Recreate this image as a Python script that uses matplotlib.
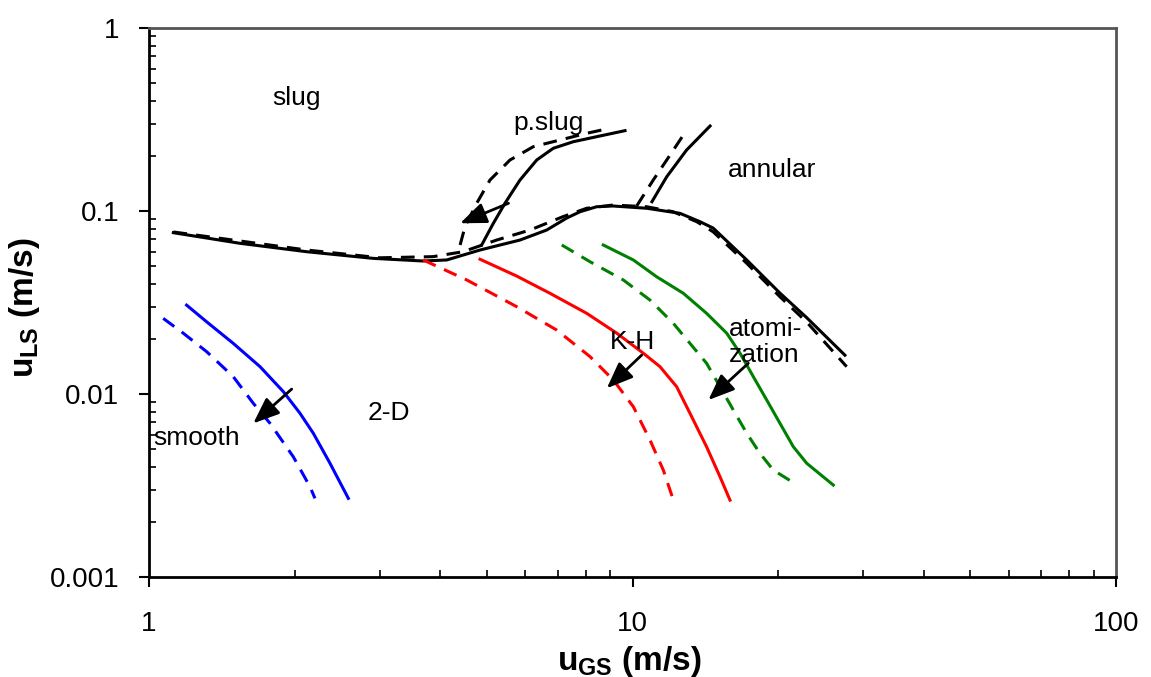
import matplotlib
matplotlib.use("Agg")
import matplotlib.pyplot as plt
from matplotlib.ticker import LogLocator, FuncFormatter, NullFormatter

plt.rcParams['font.family'] = ['Liberation Sans', 'DejaVu Sans']
plt.rcParams['mathtext.fontset'] = 'custom'
plt.rcParams['mathtext.rm'] = 'Liberation Sans'
plt.rcParams['mathtext.bf'] = 'Liberation Sans:bold'

# ---- data ----
main_solid_x = [1.123, 1.542, 2.12, 2.91, 3.69, 4.128, 4.837, 5.852, 6.645, 7.31, 7.79, 8.43, 9.11, 10.70, 12.54, 13.79, 14.68, 17.23, 20.18, 22.9, 27.5]
main_solid_y = [0.0761, 0.0666, 0.0599, 0.0551, 0.0533, 0.0540, 0.0612, 0.0694, 0.0787, 0.0915, 0.0991, 0.1055, 0.1065, 0.1035, 0.0971, 0.0874, 0.0807, 0.054, 0.0356, 0.0262, 0.0163]

main_dash_x = [1.123, 2.12, 3.005, 3.867, 4.461, 5.238, 6.138, 7.18, 8.04, 9.11, 10.70, 12.13, 13.58, 14.68, 17.23, 20.18, 22.93, 27.73]
main_dash_y = [0.0768, 0.0612, 0.0555, 0.0563, 0.0599, 0.0694, 0.0787, 0.0931, 0.1035, 0.1078, 0.1055, 0.0991, 0.0874, 0.0770, 0.0518, 0.0340, 0.0247, 0.0141]

pslug_solid_x = [4.876, 5.154, 5.448, 5.852, 6.338, 6.858, 7.543, 8.43, 9.65]
pslug_solid_y = [0.0652, 0.0856, 0.1102, 0.1477, 0.19, 0.2202, 0.2391, 0.2547, 0.2748]

pslug_dash_x = [4.40, 4.504, 4.762, 5.073, 5.58, 6.235, 7.08, 8.04, 8.64]
pslug_dash_y = [0.0652, 0.0821, 0.1102, 0.1477, 0.19, 0.2246, 0.2443, 0.2658, 0.2771]

annular_solid_x = [10.97, 11.77, 12.94, 14.47]
annular_solid_y = [0.1124, 0.1539, 0.2155, 0.2914]

annular_dash_x = [10.2, 11.04, 11.96, 12.74]
annular_dash_y = [0.1065, 0.1477, 0.2023, 0.2602]

smooth_solid_x = [1.196, 1.316, 1.494, 1.697, 1.896, 2.053, 2.187, 2.368, 2.584]
smooth_solid_y = [0.0306, 0.0248, 0.0189, 0.0141, 0.0103, 0.00784, 0.0061, 0.00418, 0.00269]

smooth_dash_x = [1.07, 1.177, 1.316, 1.494, 1.643, 1.779, 1.988, 2.153, 2.204]
smooth_dash_y = [0.0259, 0.0215, 0.01703, 0.01243, 0.0089, 0.00692, 0.00454, 0.00311, 0.00269]

kh_solid_x = [4.837, 5.761, 6.751, 8.04, 9.276, 10.53, 11.40, 12.34, 13.15, 14.23, 15.17, 15.91]
kh_solid_y = [0.0545, 0.0441, 0.0355, 0.0276, 0.0215, 0.0167, 0.0141, 0.01096, 0.00784, 0.00515, 0.00353, 0.00263]

kh_dash_x = [3.69, 4.541, 5.761, 6.968, 8.17, 9.126, 10.04, 10.87, 11.58, 12.15]
kh_dash_y = [0.054, 0.042, 0.030, 0.02237, 0.016, 0.01193, 0.00852, 0.0056, 0.00384, 0.00263]

atom_solid_x = [8.70, 10.04, 11.22, 12.74, 14.23, 15.66, 16.69, 17.78, 18.95, 20.18, 21.51, 22.93, 26.02]
atom_solid_y = [0.0652, 0.054, 0.0437, 0.0355, 0.0276, 0.0215, 0.0167, 0.01243, 0.00927, 0.00692, 0.00515, 0.00418, 0.00318]

atom_dash_x = [7.14, 8.17, 9.57, 10.87, 12.15, 13.15, 14.23, 15.17, 16.16, 17.23, 18.35, 19.55, 21.35]
atom_dash_y = [0.0652, 0.0528, 0.042, 0.0326, 0.0243, 0.0189, 0.01472, 0.01096, 0.00818, 0.0061, 0.00474, 0.00384, 0.00332]

# arrows: (start_x, start_y, tip_x, tip_y)
arrow_starts_x = [1.973, 10.45, 17.36, 5.54]
arrow_starts_y = [0.01064, 0.01633, 0.01472, 0.1102]
arrow_tips_x = [1.643, 8.85, 14.35, 4.40]
arrow_tips_y = [0.00691, 0.01075, 0.00927, 0.0857]

labels = ['slug', 'p.slug', 'annular', 'K-H', 'atomi-\nzation', '2-D', 'smooth']
labels_x = [2.02, 6.69, 19.44, 9.98, 15.82, 3.136, 1.255]
labels_y = [0.4145, 0.303, 0.1676, 0.0192, 0.0192, 0.00787, 0.00573]
labels_ha = ['center', 'center', 'center', 'center', 'left', 'center', 'center']

x_ticks = [1, 10, 100]
y_ticks = [0.001, 0.01, 0.1, 1]

# ---- figure ----
fig = plt.figure(figsize=(11.51, 6.77), dpi=100)
ax = fig.add_axes([149/1151, 1 - 577/677, (1116 - 149)/1151, (577 - 28)/677])
ax.set_xscale('log')
ax.set_yscale('log')
ax.set_xlim(1, 100)
ax.set_ylim(0.001, 1)

lw = 2.2
dash = (0, (4.5, 3))
ax.plot(main_solid_x, main_solid_y, color='black', lw=lw)
ax.plot(main_dash_x, main_dash_y, color='black', lw=lw, ls=dash)
ax.plot(pslug_solid_x, pslug_solid_y, color='black', lw=lw)
ax.plot(pslug_dash_x, pslug_dash_y, color='black', lw=lw, ls=dash)
ax.plot(annular_solid_x, annular_solid_y, color='black', lw=lw)
ax.plot(annular_dash_x, annular_dash_y, color='black', lw=lw, ls=dash)
ax.plot(smooth_solid_x, smooth_solid_y, color='#0000ff', lw=lw)
ax.plot(smooth_dash_x, smooth_dash_y, color='#0000ff', lw=lw, ls=dash)
ax.plot(kh_solid_x, kh_solid_y, color='#ff0000', lw=lw)
ax.plot(kh_dash_x, kh_dash_y, color='#ff0000', lw=lw, ls=dash)
ax.plot(atom_solid_x, atom_solid_y, color='#008000', lw=lw)
ax.plot(atom_dash_x, atom_dash_y, color='#008000', lw=lw, ls=dash)

for sx, sy, tx, ty in zip(arrow_starts_x, arrow_starts_y, arrow_tips_x, arrow_tips_y):
    ax.annotate('', xy=(tx, ty), xytext=(sx, sy),
                arrowprops=dict(arrowstyle='-|>,head_length=1.0,head_width=0.4',
                                mutation_scale=16, color='black', lw=2,
                                shrinkA=0, shrinkB=0))

for t, lx, ly, ha in zip(labels, labels_x, labels_y, labels_ha):
    ax.text(lx, ly, t, fontsize=19, ha=ha, va='center', linespacing=1.1)

# spines
for s in ['left', 'bottom']:
    ax.spines[s].set_color('black')
    ax.spines[s].set_linewidth(2)
for s in ['top', 'right']:
    ax.spines[s].set_color('#555555')
    ax.spines[s].set_linewidth(2)

fmt = FuncFormatter(lambda v, _: f'{v:g}')
ax.set_xticks(x_ticks)
ax.set_yticks(y_ticks)
ax.xaxis.set_major_formatter(fmt)
ax.yaxis.set_major_formatter(fmt)
ax.xaxis.set_minor_locator(LogLocator(base=10, subs=range(2, 10)))
ax.yaxis.set_minor_locator(LogLocator(base=10, subs=range(2, 10)))
ax.xaxis.set_minor_formatter(NullFormatter())
ax.yaxis.set_minor_formatter(NullFormatter())

ax.tick_params(axis='both', which='major', direction='out', length=7.5, width=1.5,
               labelsize=20, color='black')
ax.tick_params(axis='x', which='major', pad=17)
ax.tick_params(axis='y', which='major', pad=14)
ax.tick_params(axis='both', which='minor', direction='in', length=5, width=1.2, color='black')
ax.tick_params(top=False, right=False, which='both')

ax.set_xlabel(r'$\mathbf{u_{GS}}$ (m/s)', fontsize=24, fontweight='bold')
ax.set_ylabel(r'$\mathbf{u_{LS}}$ (m/s)', fontsize=24, fontweight='bold')
ax.xaxis.set_label_coords(0.497, -0.122)
ax.yaxis.set_label_coords(-0.111, 0.49)

fig.savefig('out.png', dpi=100)
